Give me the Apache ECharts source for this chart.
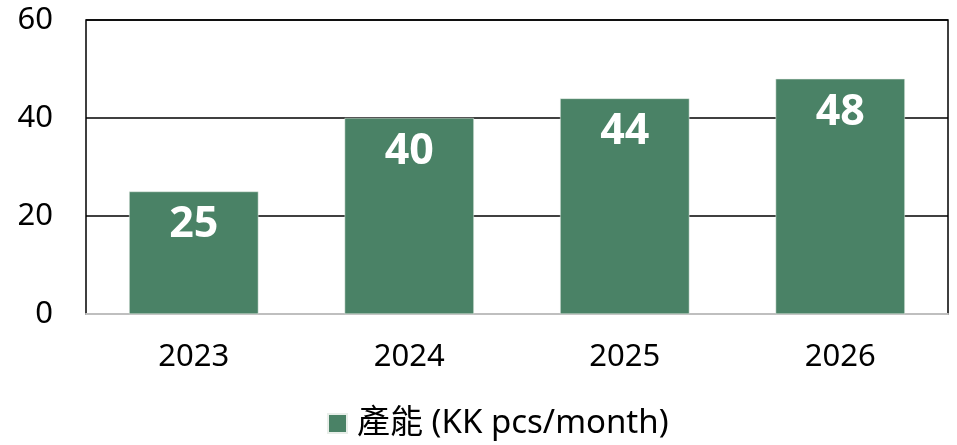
<!DOCTYPE html>
<html>
<head>
<meta charset="utf-8">
<script src="https://cdn.jsdelivr.net/npm/echarts@6/dist/echarts.min.js"></script>
<style>
  html, body { margin: 0; padding: 0; background: #fff; }
  #chart { width: 957px; height: 445px; }
</style>
</head>
<body>
<div id="chart"></div>
<script>
const years = ['2023', '2024', '2025', '2026'];
const capacity = [25, 40, 44, 48];
const seriesName = '產能 (KK pcs/month)';

const chart = echarts.init(document.getElementById('chart'));
const font = '"Noto Sans", "Noto Sans CJK TC", sans-serif';

chart.setOption({
  animation: false,
  grid: { left: 86, right: 9, top: 20, bottom: 131, show: true, borderColor: '#000', borderWidth: 1.5 },
  legend: {
    top: 402,
    left: 322,
    itemWidth: 19,
    itemHeight: 19,
    icon: 'rect',
    textStyle: { fontSize: 33, color: '#000', fontFamily: font, padding: [0, 0, 0, 5] }
  },
  xAxis: {
    type: 'category',
    data: years,
    axisLine: { lineStyle: { color: '#bfbfbf', width: 2 } },
    axisTick: { show: false },
    axisLabel: { fontSize: 31, color: '#000', margin: 28, fontFamily: font }
  },
  yAxis: {
    type: 'value',
    min: 0,
    max: 60,
    interval: 20,
    axisLine: { show: false },
    axisTick: { show: false },
    splitLine: { lineStyle: { color: '#000', width: 1.5 } },
    axisLabel: { fontSize: 31, color: '#000', margin: 33, fontFamily: font }
  },
  series: [{
    name: seriesName,
    type: 'bar',
    data: capacity,
    barWidth: '60%',
    itemStyle: { color: '#4a8266', borderColor: '#e8eee9', borderWidth: 0.5 },
    label: {
      show: true,
      position: 'insideTop',
      distance: 12,
      color: '#fff',
      fontSize: 43,
      fontWeight: 'bold',
      fontFamily: font
    }
  }]
});
</script>
</body>
</html>
